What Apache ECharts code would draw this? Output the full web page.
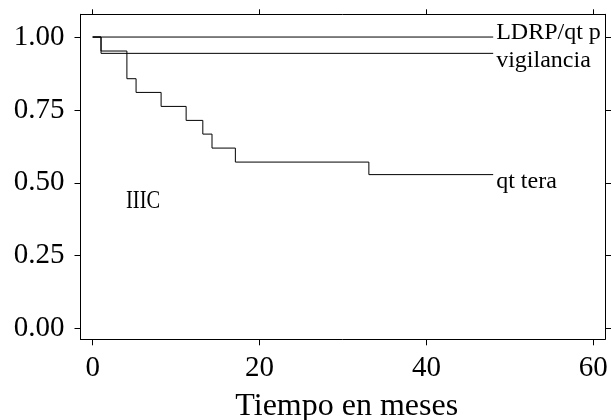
<!DOCTYPE html>
<html>
<head>
<meta charset="utf-8">
<script src="https://cdn.jsdelivr.net/npm/echarts@6/dist/echarts.min.js"></script>
<style>
  html, body { margin: 0; padding: 0; background: #fff; }
  #chart { width: 611px; height: 420px; }
</style>
</head>
<body>
<div id="chart"></div>
<script>
// Kaplan-Meier curves
var ldrpTime = [0, 48];
var ldrpSurv = [1, 1];
var vigTime = [0, 1, 48];
var vigSurv = [1, 0.944, 0.944];
var qtTime = [0, 1, 4.1, 5.2, 8.2, 11.2, 13.2, 14.3, 17.1, 33.1, 48];
var qtSurv = [1, 0.952, 0.857, 0.810, 0.762, 0.714, 0.667, 0.619, 0.571, 0.528, 0.528];
var xTicks = [0, 20, 40, 60];
var yTicks = [0, 0.25, 0.5, 0.75, 1];

var font = 'Liberation Serif';

function pairs(t, s) {
  return t.map(function (v, i) { return [v, s[i]]; });
}

function curve(name, t, s, dy) {
  return {
    name: name,
    type: 'line',
    step: 'end',
    symbol: 'none',
    data: pairs(t, s),
    lineStyle: { color: '#000', width: 1 },
    endLabel: {
      show: true,
      formatter: name,
      distance: 3,
      offset: [0, dy],
      color: '#000',
      fontFamily: font,
      fontSize: 24
    }
  };
}

var box = { show: true, onZero: false, lineStyle: { color: '#000', width: 1 } };
var tickStyle = { color: '#000', width: 1 };

var option = {
  animation: false,
  grid: { left: 80.5, right: 6, top: 14.3, bottom: 80.7, containLabel: false, outerBoundsMode: 'none' },
  xAxis: [{
    type: 'value', min: -1.46, max: 61.4,
    axisLine: box,
    axisTick: { show: true, length: 6, lineStyle: tickStyle, customValues: xTicks },
    axisLabel: { customValues: xTicks, color: '#000', fontFamily: font, fontSize: 29, margin: 15 },
    splitLine: { show: false },
    name: 'Tiempo en meses', nameLocation: 'middle', nameGap: 51,
    nameTextStyle: { color: '#000', fontFamily: font, fontSize: 32, padding: [0, 0, 0, 8] }
  }, {
    type: 'value', position: 'top', min: -1.46, max: 61.4,
    axisLine: box,
    axisTick: { show: true, length: 5, lineStyle: tickStyle, customValues: xTicks },
    axisLabel: { show: false, customValues: xTicks },
    splitLine: { show: false }
  }],
  yAxis: [{
    type: 'value', min: -0.037, max: 1.078,
    axisLine: box,
    axisTick: { show: true, length: 6, lineStyle: tickStyle, customValues: yTicks },
    axisLabel: {
      customValues: yTicks, color: '#000', fontFamily: font, fontSize: 29, margin: 16,
      formatter: function (v) { return v.toFixed(2); }
    },
    splitLine: { show: false }
  }, {
    type: 'value', position: 'right', min: -0.037, max: 1.078,
    axisLine: box,
    axisTick: { show: true, length: 6, lineStyle: tickStyle, customValues: yTicks },
    axisLabel: { show: false, customValues: yTicks },
    splitLine: { show: false }
  }],
  graphic: [{
    type: 'text',
    x: 126, y: 189,
    scaleX: 0.82,
    style: { text: 'IIIC', fill: '#000', fontFamily: font, fontSize: 25, verticalAlign: 'top' }
  }],
  series: [
    curve('LDRP/qt p', ldrpTime, ldrpSurv, -4),
    curve('vigilancia', vigTime, vigSurv, 7),
    curve('qt tera', qtTime, qtSurv, 7)
  ]
};

echarts.init(document.getElementById('chart')).setOption(option);
</script>
</body>
</html>
